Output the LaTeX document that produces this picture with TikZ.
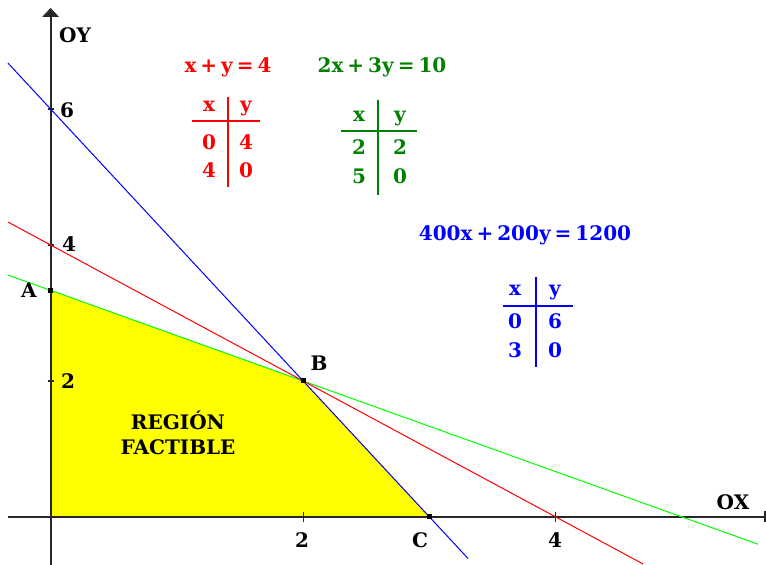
\documentclass[tikz,border=0pt]{standalone}
\usepackage{fontspec}
\setmainfont{DejaVu Serif}
\definecolor{tgreen}{RGB}{0,128,0}
\definecolor{lgreen}{RGB}{0,255,0}
\definecolor{axisc}{RGB}{40,40,40}
\definecolor{regfill}{RGB}{255,255,0}
\newcommand{\gp}{\kern4pt}
\begin{document}
\begin{tikzpicture}[x=126.3pt,y=68pt,
  lab/.style={font=\bfseries\fontsize{20}{22}\selectfont, inner sep=0pt},
  tab/.style={font=\bfseries\fontsize{20}{22}\selectfont, inner sep=0pt, anchor=base},
  axisline/.style={line width=2pt, axisc},
  plotline/.style={line width=1pt},
  pt/.style={fill=black, minimum size=5pt, inner sep=0pt, draw=none, rectangle}]
\useasboundingbox (-50.6pt,-48pt) rectangle (715.4pt,517pt);
\fill[white] (-50.6pt,-48pt) rectangle (715.4pt,517pt);
% feasible region
\fill[regfill] (0,0) -- (0,10/3) -- (2,2) -- (3,0) -- cycle;
% axes
\coordinate (xs) at (-42.6pt,0);
\coordinate (xe) at (714.4pt,0);
\coordinate (ys) at (0,-48pt);
\coordinate (ye) at (0,501pt);
\draw[axisline] (xs) -- (xe);
\draw[axisline] (ys) -- (ye);
\fill[axisc] (0,509pt) -- (-8.5pt,500pt) -- (8.5pt,500pt) -- cycle;
\draw[line width=2pt, axisc] (714.4pt,-5.5pt) -- (714.4pt,5.5pt);
% ticks
\foreach \yy in {2,4,6} \draw[line width=1.2pt, axisc] (-3pt,\yy) -- (3pt,\yy);
\foreach \xx in {2,4} \draw[line width=1.2pt, axisc] (\xx,-5pt) -- (\xx,5pt);
% lines
\coordinate (b1) at (-0.337,6.674);
\coordinate (b2) at (3.305,-0.61);
\coordinate (r1) at (-0.337,4.337);
\coordinate (r2) at (4.69,-0.69);
\coordinate (g1) at (-0.337,3.558);
\coordinate (g2) at (5.6,-0.4);
\draw[plotline, lgreen] (g1) -- (g2);
\draw[plotline, red] (r1) -- (r2);
\draw[plotline, blue] (b1) -- (b2);
% points
\node[pt] (A) at (0,10/3) {};
\node[pt] (B) at (2,2) {};
\node[pt] (C) at (3,0) {};
% axis labels
\node[lab] (oy) at (24.4pt,482pt) {OY};
\node[lab] (ox) at (682.4pt,15pt) {OX};
\node[lab] (y6) at (16.4pt,407pt) {6};
\node[lab] (y4) at (18.4pt,273pt) {4};
\node[lab] (y2) at (17.4pt,136pt) {2};
\node[lab] (x2) at (251.4pt,-23pt) {2};
\node[lab] (x4) at (504.4pt,-23pt) {4};
\node[lab] (lA) at (-21.6pt,227pt) {A};
\node[lab] (lB) at (268.4pt,154pt) {B};
\node[lab] (lC) at (369.4pt,-23pt) {C};
\node[lab] (reg1) at (127.4pt,97pt) {REGIÓN};
\node[lab] (reg2) at (127.4pt,70pt) {FACTIBLE};
% equations
\node[lab, red] (eqr) at (177.4pt,450pt) {x\gp+\gp y\gp=\gp 4};
\node[lab, tgreen] (eqg) at (331.4pt,450pt) {2x\gp+\gp 3y\gp=\gp 10};
\node[lab, blue] (eqb) at (474.4pt,282pt) {400x\gp+\gp 200y\gp=\gp 1200};
% red table
\draw[red, line width=1.2pt] (177.4pt,420pt) -- (177.4pt,330pt);
\draw[red, line width=1.2pt] (141.4pt,396pt) -- (209.4pt,396pt);
\node[tab, red] (rx) at (158.4pt,405pt) {x};
\node[tab, red] (ry) at (195.4pt,405pt) {y};
\node[tab, red] (r11) at (158.4pt,367pt) {0};
\node[tab, red] (r12) at (195.4pt,367pt) {4};
\node[tab, red] (r21) at (158.4pt,339pt) {4};
\node[tab, red] (r22) at (195.4pt,339pt) {0};
% green table
\draw[tgreen, line width=1.2pt] (327.4pt,417pt) -- (327.4pt,322pt);
\draw[tgreen, line width=1.2pt] (290.4pt,386pt) -- (366.4pt,386pt);
\node[tab, tgreen] (gx) at (308.4pt,395pt) {x};
\node[tab, tgreen] (gy) at (349.4pt,395pt) {y};
\node[tab, tgreen] (g11) at (308.4pt,362pt) {2};
\node[tab, tgreen] (g12) at (349.4pt,362pt) {2};
\node[tab, tgreen] (g21) at (308.4pt,333pt) {5};
\node[tab, tgreen] (g22) at (349.4pt,333pt) {0};
% blue table
\draw[blue, line width=1.2pt] (485.4pt,240pt) -- (485.4pt,150pt);
\draw[blue, line width=1.2pt] (452.4pt,211pt) -- (522.4pt,211pt);
\node[tab, blue] (bx) at (464.4pt,221pt) {x};
\node[tab, blue] (by) at (504.4pt,221pt) {y};
\node[tab, blue] (b11) at (464.4pt,188pt) {0};
\node[tab, blue] (b12) at (504.4pt,188pt) {6};
\node[tab, blue] (b21) at (464.4pt,159pt) {3};
\node[tab, blue] (b22) at (504.4pt,159pt) {0};
\end{tikzpicture}
\end{document}
